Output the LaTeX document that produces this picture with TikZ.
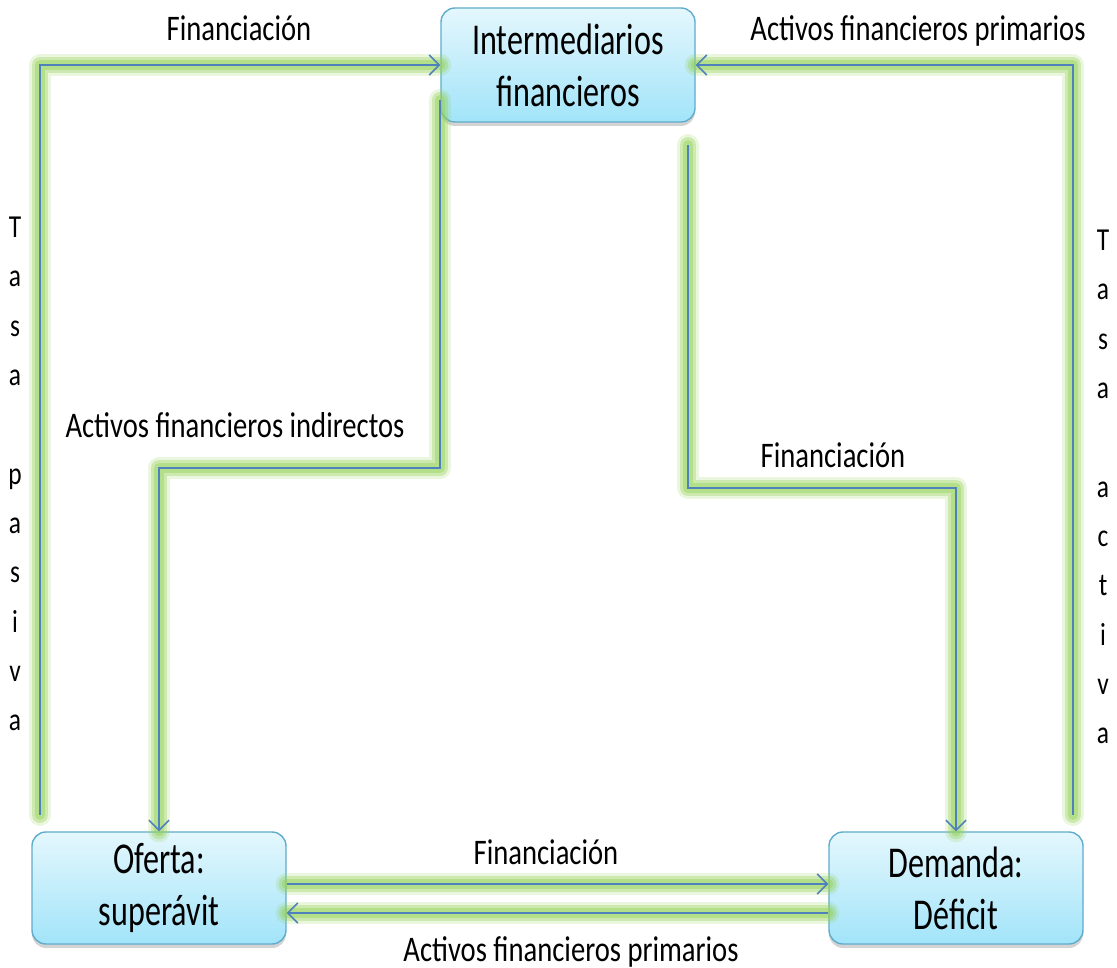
\documentclass[tikz,border=0pt]{standalone}
\usepackage{fontspec}
\setmainfont{Carlito}
\newfontfamily\boxfont[FakeStretch=0.73]{Carlito}
\newfontfamily\lblfont[FakeStretch=0.795]{Carlito}
\usetikzlibrary{arrows.meta,shadows}
\definecolor{flowblue}{RGB}{79,129,189}
\definecolor{glowgreen}{RGB}{150,210,90}
\definecolor{boxtop}{RGB}{228,247,253}
\definecolor{boxbot}{RGB}{162,228,249}
\definecolor{boxline}{RGB}{96,172,204}
\tikzset{
  agent/.style={draw=boxline, line width=1.4pt, rounded corners=14pt,
    top color=boxtop, bottom color=boxbot, minimum width=254pt,
    align=center, font=\boxfont\fontsize{44}{52}\selectfont,
    drop shadow={shadow xshift=0pt, shadow yshift=-4pt, opacity=0.35}},
  lbl/.style={font=\lblfont\fontsize{36}{40}\selectfont, anchor=base},
  vlbl/.style={font=\lblfont\fontsize{32}{49.3}\selectfont, align=center},
  glowA/.style={draw=glowgreen, line width=22pt, draw opacity=0.2, line cap=round, line join=round},
  glowB/.style={draw=glowgreen, line width=16pt, draw opacity=0.35, line cap=round, line join=round},
  glowC/.style={draw=glowgreen, line width=10pt, draw opacity=0.45, line cap=round, line join=round},
  flow/.style={draw=flowblue, line width=1.6pt, -{Straight Barb[length=10pt,width=20pt,line width=1.6pt]}}
}
% draw a connector with its soft green halo underneath
\newcommand{\glowpath}[2]{%
  \path[glowA] #2;
  \path[glowB] #2;
  \path[glowC] #2;
  \draw[#1] #2;}
\begin{document}
\begin{tikzpicture}[x=1pt,y=-1pt]
\useasboundingbox (0,0) rectangle (1117,968);

% agents
\node[agent, minimum height=114pt] (inter) at (568,65) {Intermediarios\\financieros};
\node[agent, minimum height=112pt] (oferta) at (159,888) {Oferta:\\superávit};
\node[agent, minimum height=112pt] (demanda) at (956,888) {Demanda:\\Déficit};

% free ends of the connectors
\coordinate (pl) at (40,815);
\coordinate (pr) at (1073,815);
\coordinate (ai) at (440,100);
\coordinate (af) at (688,145);

% outer loops
\glowpath{flow}{(pl) |- (inter.west)}
\glowpath{flow}{(pr) |- (inter.east)}
% intermediary flows
\glowpath{flow}{(ai) -- (440,468) -| (oferta.north)}
\glowpath{flow}{(af) -- (688,488) -| (demanda.north)}
% direct flows
\glowpath{flow}{([yshift=4pt]oferta.east) -- ([yshift=4pt]demanda.west)}
\glowpath{flow}{([yshift=-25pt]demanda.west) -- ([yshift=-25pt]oferta.east)}

% labels
\node[lbl] (l1) at (239,41) {Financiación};
\node[lbl] (l2) at (918,41) {Activos financieros primarios};
\node[lbl] (l3) at (235,437) {Activos financieros indirectos};
\node[lbl] (l4) at (833,467) {Financiación};
\node[lbl] (l5) at (546,864) {Financiación};
\node[lbl] (l6) at (571,961) {Activos financieros primarios};

\node[vlbl] (tp) at (15,474) {T\\a\\s\\a\\\mbox{}\\p\\a\\s\\i\\v\\a};
\node[vlbl] (ta) at (1103,487) {T\\a\\s\\a\\\mbox{}\\a\\c\\t\\i\\v\\a};
\end{tikzpicture}
\end{document}
